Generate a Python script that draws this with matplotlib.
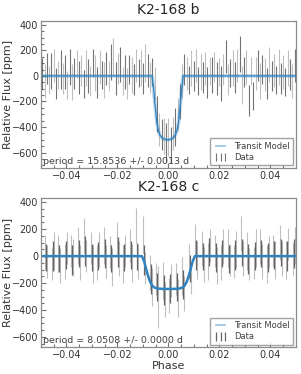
import numpy as np
import matplotlib.pyplot as plt
from matplotlib.lines import Line2D
from matplotlib.ticker import MultipleLocator, AutoMinorLocator

# --- K2-168 b: folded light curve ---
phase_b = [-0.0495, -0.0486, -0.0477, -0.0468, -0.0459, -0.0450, -0.0441, -0.0432, -0.0423, -0.0414,
           -0.0405, -0.0396, -0.0387, -0.0378, -0.0369, -0.0360, -0.0351, -0.0342, -0.0333, -0.0324,
           -0.0315, -0.0306, -0.0297, -0.0288, -0.0279, -0.0270, -0.0261, -0.0252, -0.0243, -0.0234,
           -0.0225, -0.0216, -0.0207, -0.0198, -0.0189, -0.0180, -0.0171, -0.0162, -0.0153, -0.0144,
           -0.0135, -0.0126, -0.0117, -0.0108, -0.0099, -0.0090, -0.0081, -0.0072, -0.0063, -0.0054,
           -0.0045, -0.0036, -0.0027, -0.0018, -0.0009, 0.0000, 0.0009, 0.0018, 0.0027, 0.0036,
           0.0045, 0.0054, 0.0063, 0.0072, 0.0081, 0.0090, 0.0099, 0.0108, 0.0117, 0.0126,
           0.0135, 0.0144, 0.0153, 0.0162, 0.0171, 0.0180, 0.0189, 0.0198, 0.0207, 0.0216,
           0.0225, 0.0234, 0.0243, 0.0252, 0.0261, 0.0270, 0.0279, 0.0288, 0.0297, 0.0306,
           0.0315, 0.0324, 0.0333, 0.0342, 0.0351, 0.0360, 0.0369, 0.0378, 0.0387, 0.0396,
           0.0405, 0.0414, 0.0423, 0.0432, 0.0441, 0.0450, 0.0459, 0.0468, 0.0477, 0.0486,
           0.0495]
flux_b = [20, -40, 60, -30, 40, 80, -60, 10, 50, -20,
          30, -70, 70, -50, 20, 90, -10, 40, -60, 60,
          0, -40, 100, 20, -50, 70, 10, -30, 60, 0,
          110, 150, -20, 60, 90, -40, 30, -60, 50, 10,
          -30, 80, 20, 60, -20, 100, 40, -10, 30, -60,
          -300, -420, -460, -470, -520, -480, -540, -450, -400, -300,
          -200, -40, 50, 20, -30, 60, 0, 80, -40, 30,
          -10, 60, -50, 40, 10, 70, -20, 30, -60, 50,
          150, -30, 20, 60, -10, 80, 170, -70, 30, 70,
          -190, 40, -160, 20, 80, -40, 50, 10, -60, 90,
          0, 40, -30, 70, -20, 30, -50, 60, 10, -40,
          80]
err_b = [120, 130, 120, 110, 140, 130, 120, 110, 150, 120,
         130, 110, 140, 140, 120, 110, 130, 120, 110, 140,
         130, 120, 110, 140, 120, 130, 110, 140, 130, 120,
         140, 150, 130, 120, 140, 110, 130, 120, 110, 140,
         120, 130, 110, 140, 120, 150, 130, 120, 110, 130,
         140, 130, 120, 140, 150, 150, 140, 130, 150, 130,
         140, 130, 120, 130, 110, 140, 120, 130, 110, 140,
         120, 130, 120, 110, 140, 120, 130, 110, 140, 120,
         130, 120, 110, 140, 120, 130, 140, 150, 120, 130,
         120, 110, 110, 130, 120, 140, 110, 130, 120, 140,
         120, 130, 110, 140, 120, 130, 110, 140, 120, 130,
         130]
model_phase_b = [-0.05, -0.0064, -0.0058, -0.0054, -0.0050, -0.0046, -0.0040, -0.0034, -0.0025, -0.0014, -0.0003,
                 0.0008, 0.0019, 0.0028, 0.0034, 0.0040, 0.0044, 0.0048, 0.0052, 0.0058, 0.05]
model_flux_b = [0, 0, -100, -200, -270, -360, -420, -460, -485, -497, -500,
                -497, -485, -460, -420, -360, -270, -200, -100, 0, 0]

# --- K2-168 c: folded light curve (groups of three points) ---
phase_c = [-0.0480, -0.0454, -0.0429, -0.0403, -0.0378, -0.0352, -0.0326, -0.0301, -0.0275, -0.0250,
           -0.0224, -0.0198, -0.0173, -0.0147, -0.0122, -0.0096, -0.0070, -0.0045, -0.0019, 0.0006,
           0.0032, 0.0058, 0.0083, 0.0109, 0.0134, 0.0160, 0.0186, 0.0211, 0.0237, 0.0262,
           0.0288, 0.0314, 0.0339, 0.0365, 0.0390, 0.0416, 0.0442, 0.0467, 0.0493]
flux_c_mid = [-10, 0, -20, 10, -30, 20, 40, -10, 0, 20,
              -20, 30, -10, 10, 0, -30, -170, -230, -250, -240,
              -230, -210, -90, 10, 0, 30, -10, 20, -20, 10,
              30, -20, 0, 20, -10, 10, 30, 0, 20]
flux_c_left = [30, -60, 20, -40, 40, 80, 150, 60, -50, 80,
               30, 120, -60, 80, 230, 160, -120, -170, -180, -290,
               -170, -150, -40, 120, 60, -40, 40, -50, 60, -40,
               170, 40, -50, 70, -60, 40, 100, -30, -20]
flux_c_right = [-40, 40, -70, 60, -10, -50, 0, -60, 50, -40,
                -80, -20, 40, -50, -40, -90, -230, -300, -320, -180,
                -310, -280, -160, -30, -60, 80, -70, 70, -30, 50,
                -20, -60, 60, -40, 30, -30, -20, 90, 80]
err_c_mid = [100, 110, 100, 105, 110, 100, 110, 100, 105, 110,
             100, 110, 100, 105, 100, 110, 110, 105, 110, 110,
             105, 110, 100, 110, 100, 105, 110, 100, 105, 110,
             100, 110, 105, 100, 110, 105, 100, 110, 105]
err_c_left = [130, 120, 140, 130, 120, 140, 130, 120, 130, 140,
              120, 130, 140, 120, 130, 140, 130, 120, 140, 130,
              120, 140, 130, 120, 130, 140, 120, 130, 140, 120,
              130, 140, 120, 130, 140, 120, 130, 140, 120]
err_c_right = [120, 140, 130, 120, 140, 130, 120, 140, 130, 120,
               140, 130, 120, 140, 130, 120, 140, 230, 130, 120,
               140, 130, 120, 140, 130, 120, 140, 130, 120, 140,
               130, 120, 140, 130, 120, 140, 130, 120, 140]
model_phase_c = [-0.05, -0.0104, -0.0095, -0.0088, -0.0080, -0.0072, -0.0064, -0.0055, -0.0045, -0.0025, 0.0,
                 0.0025, 0.0045, 0.0055, 0.0064, 0.0072, 0.0080, 0.0088, 0.0095, 0.0104, 0.05]
model_flux_c = [0, 0, -40, -90, -145, -190, -218, -233, -240, -243, -244,
                -243, -240, -233, -218, -190, -145, -90, -40, 0, 0]
offset_c = 0.0004

titles = ["K2-168 b", "K2-168 c"]
period_texts = ["period = 15.8536 +/- 0.0013 d", "period = 8.0508 +/- 0.0000 d"]
ylims = [(-720, 430), (-677, 430)]

blue = "#2f83c0"
fig = plt.figure(figsize=(3.01, 3.74), dpi=100)
ax_b = fig.add_axes([0.136, 0.551, 0.847, 0.393])
ax_c = fig.add_axes([0.136, 0.0714, 0.847, 0.3986])

# panel b
pb = np.array(phase_b)
fb = np.array(flux_b)
eb = np.array(err_b)
data_b = ax_b.errorbar(pb[::2], fb[::2], yerr=eb[::2], fmt="none", ecolor="k", alpha=0.55, elinewidth=0.8)
ax_b.errorbar(pb[1::2], fb[1::2], yerr=eb[1::2], fmt="none", ecolor="k", alpha=0.25, elinewidth=0.8)
ax_b.plot(model_phase_b, model_flux_b, color=blue, lw=2.6, alpha=0.3)
ax_b.plot(model_phase_b, model_flux_b, color=blue, lw=0.9)

# panel c
pc = np.array(phase_c)
data_c = ax_c.errorbar(pc, flux_c_mid, yerr=err_c_mid, fmt="none", ecolor="k", alpha=0.6, elinewidth=0.9)
ax_c.errorbar(pc - offset_c, flux_c_left, yerr=err_c_left, fmt="none", ecolor="k", alpha=0.25, elinewidth=0.8)
ax_c.errorbar(pc + offset_c, flux_c_right, yerr=err_c_right, fmt="none", ecolor="k", alpha=0.25, elinewidth=0.8)
ax_c.plot(model_phase_c, model_flux_c, color=blue, lw=1.8)

model_handle = Line2D([], [], color=blue, alpha=0.5, lw=1.2)
for ax, title, ptxt, ylim, dh in zip([ax_b, ax_c], titles, period_texts, ylims, [data_b, data_c]):
    ax.set_xlim(-0.05, 0.05)
    ax.set_ylim(*ylim)
    ax.set_title(title, fontsize=10, color="0.15", pad=5)
    ax.set_ylabel("Relative Flux [ppm]", fontsize=8, color="0.2")
    ax.yaxis.set_label_coords(-0.108, 0.5)
    ax.xaxis.set_major_locator(MultipleLocator(0.02))
    ax.xaxis.set_minor_locator(AutoMinorLocator(4))
    ax.yaxis.set_major_locator(MultipleLocator(200))
    ax.yaxis.set_minor_locator(AutoMinorLocator(4))
    ax.tick_params(which="both", direction="in", labelsize=7, colors="0.45", labelcolor="0.2", width=0.8)
    ax.tick_params(which="major", length=3.5, pad=2)
    ax.tick_params(which="minor", length=2)
    for s in ax.spines.values():
        s.set_color("0.55")
        s.set_linewidth(0.9)
    ax.text(0.008, 0.015, ptxt, transform=ax.transAxes, fontsize=6.8, color="0.25", ha="left", va="bottom")
    leg = ax.legend([model_handle, dh], ["Transit Model", "Data"], loc="lower right", fontsize=6,
                    numpoints=3, borderaxespad=0.3, handlelength=1.7, labelspacing=0.3, fancybox=False)
    leg.get_frame().set_edgecolor("0.55")
    for t in leg.get_texts():
        t.set_color("0.25")

ax_c.set_xlabel("Phase", fontsize=8, color="0.2", labelpad=1)

fig.savefig("out.png", dpi=100)
